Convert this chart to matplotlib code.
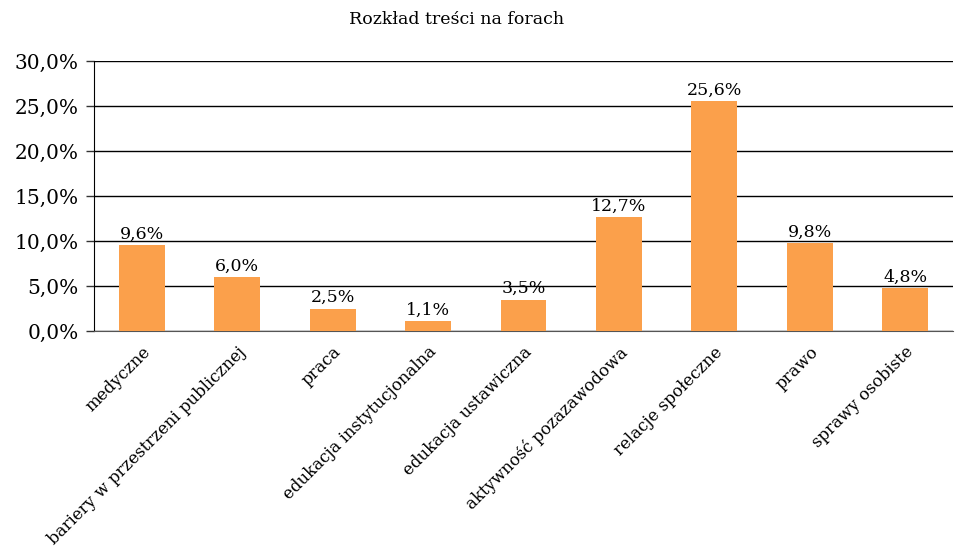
import matplotlib.pyplot as plt
import numpy as np

plt.rcParams['font.family'] = ['DejaVu Serif']

kategorie = ['medyczne', 'bariery w przestrzeni publicznej', 'praca',
             'edukacja instytucjonalna', 'edukacja ustawiczna',
             'aktywność pozazawodowa', 'relacje społeczne', 'prawo',
             'sprawy osobiste']
udzial = [9.6, 6.0, 2.5, 1.1, 3.5, 12.7, 25.6, 9.8, 4.8]
yticks = [0, 5, 10, 15, 20, 25, 30]

fig = plt.figure(figsize=(9.6, 5.55), dpi=100)
ax = fig.add_axes([94/960, 1-331/555, 859/960, 270/555])

x = np.arange(len(kategorie))
ax.bar(x, udzial, width=0.48, color='#FBA04B', zorder=3)
for xi, v in zip(x, udzial):
    ax.text(xi, v + 0.25, f'{v:.1f}%'.replace('.', ','), ha='center', va='bottom',
            fontsize=12.5)

ax.set_xlim(-0.5, len(kategorie) - 0.5)
ax.set_ylim(0, 30)
ax.set_yticks(yticks)
ax.set_yticklabels([f'{t:.1f}%'.replace('.', ',') for t in yticks], fontsize=14.5)
ax.yaxis.grid(True, color='black', lw=1, zorder=0)
ax.tick_params(axis='y', length=6, width=1, color='#333333', pad=5)
ax.tick_params(axis='x', length=0, pad=9)
ax.set_xticks(x)
ax.set_xticklabels(kategorie, rotation=45, ha='right', rotation_mode='anchor',
                   fontsize=12)
for s in ['top', 'right']:
    ax.spines[s].set_visible(False)
ax.spines['left'].set_color('black')
ax.spines['bottom'].set_color('#555555')

fig.text(457/960, 1-20/555, 'Rozkład treści na forach', ha='center', va='center',
         fontsize=12.5)

fig.savefig('out.png', dpi=100)
